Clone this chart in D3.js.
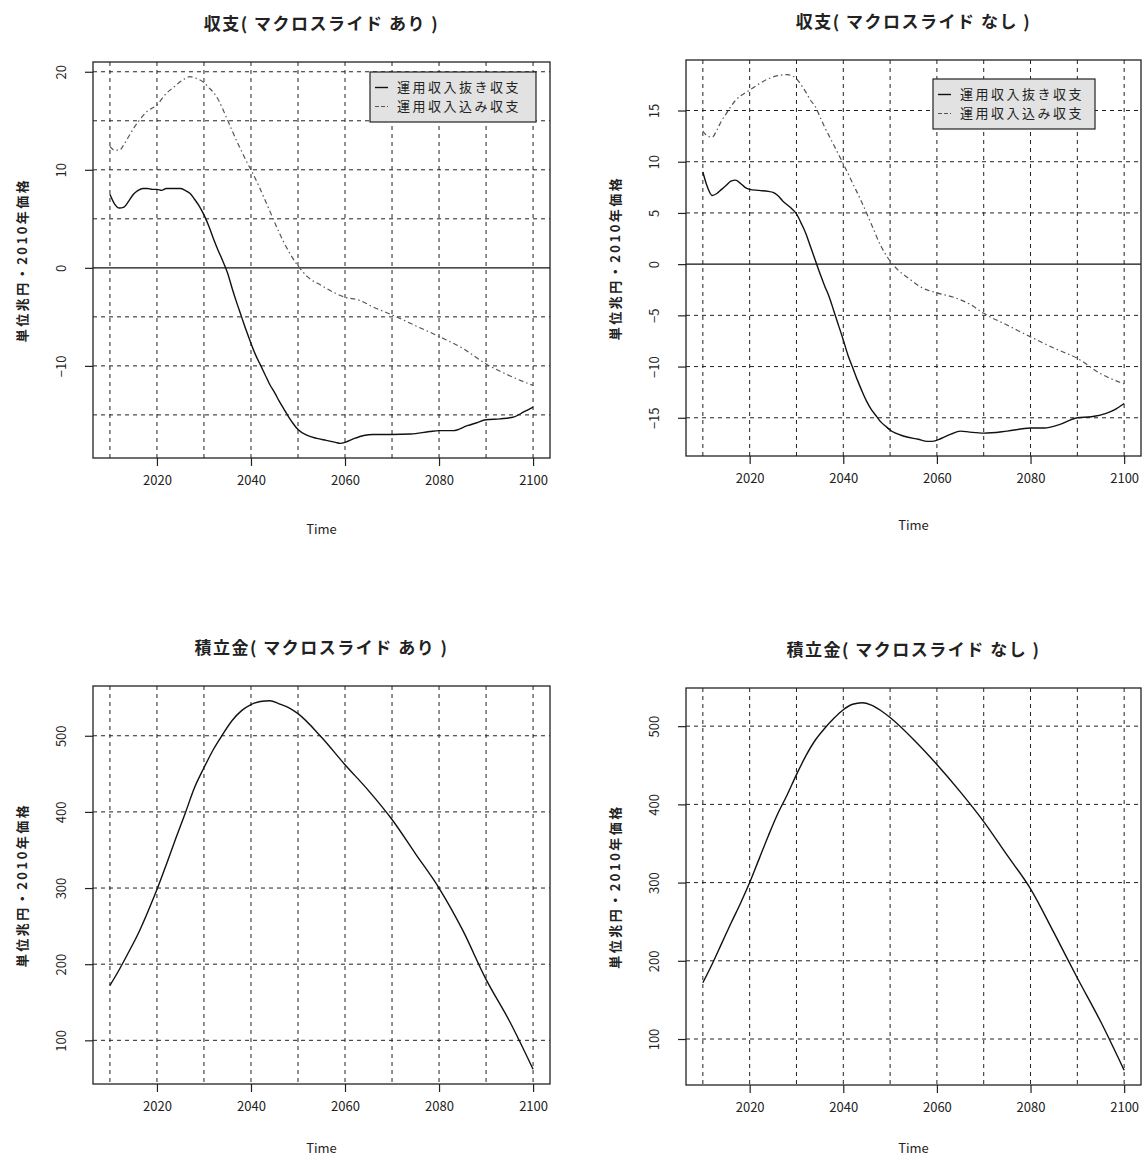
<!DOCTYPE html>
<html lang="ja">
<head>
<meta charset="UTF-8">
<title>収支・積立金</title>
<script src="https://d3js.org/d3.v7.min.js"></script>
<style>
  body { margin: 0; background: #fff; }
  text { font-family: "Noto Sans CJK JP", "Noto Sans", sans-serif; fill: #222; }
</style>
</head>
<body>
<script>
// --- data (兆円・2010年価格) ---
var yearsBalNoInvA = [2010, 2011, 2012, 2013, 2014, 2015, 2016, 2017, 2018, 2019, 2020, 2021, 2022, 2023, 2024, 2025, 2026, 2027, 2028, 2029,
  2030, 2031, 2032, 2033, 2034, 2035, 2036, 2037, 2038, 2039, 2040, 2041, 2042, 2043, 2044, 2045, 2046, 2047, 2048, 2049,
  2050, 2052, 2054, 2056, 2058, 2059, 2060, 2062, 2064, 2066, 2070, 2074, 2078, 2080, 2083, 2086, 2088, 2090, 2093, 2096, 2098, 2100];
var balNoInvA = [7.5, 6.5, 6.1, 6.2, 6.8, 7.5, 7.9, 8.1, 8.1, 8.0, 8.0, 7.9, 8.1, 8.1, 8.1, 8.1, 7.9, 7.6, 7.0, 6.3,
  5.4, 4.3, 3.0, 1.8, 0.7, -0.5, -2.1, -3.6, -5.0, -6.4, -7.7, -8.9, -9.9, -10.9, -11.9, -12.7, -13.6, -14.4, -15.2, -15.9,
  -16.5, -17.1, -17.4, -17.6, -17.8, -17.9, -17.8, -17.4, -17.1, -17.0, -17.0, -16.95, -16.7, -16.6, -16.6, -16.1, -15.8, -15.5, -15.4, -15.2, -14.7, -14.2];

var yearsBalWithInvA = [2010, 2011, 2012, 2013, 2014, 2015, 2016, 2017, 2018, 2019, 2020, 2021, 2022, 2023, 2024, 2025, 2026, 2027, 2028, 2029,
  2030, 2031, 2032, 2033, 2034, 2035, 2036, 2037, 2038, 2039, 2040, 2042, 2044, 2046, 2048, 2050, 2052, 2055, 2058, 2060,
  2063, 2066, 2070, 2075, 2080, 2085, 2090, 2095, 2100];
var balWithInvA = [12.4, 12.0, 12.0, 12.6, 13.4, 14.2, 14.9, 15.5, 16.0, 16.3, 16.6, 17.2, 17.8, 18.2, 18.6, 19.0, 19.3, 19.5, 19.4, 19.2,
  18.9, 18.4, 17.9, 17.2, 16.2, 15.1, 14.0, 12.9, 11.9, 10.9, 10.0, 8.0, 5.8, 3.6, 1.7, 0.2, -0.9, -1.8, -2.6, -3.0,
  -3.3, -4.0, -4.8, -5.9, -7.0, -8.2, -9.8, -11.0, -12.0];

var yearsBalNoInvB = [2010, 2011, 2012, 2013, 2014, 2015, 2016, 2017, 2018, 2019, 2020, 2022, 2024, 2025, 2026, 2027, 2028, 2029,
  2030, 2031, 2032, 2033, 2034, 2035, 2036, 2037, 2038, 2039, 2040, 2041, 2042, 2043, 2044, 2045, 2046, 2047, 2048, 2049,
  2050, 2053, 2056, 2058, 2059, 2061, 2063, 2065, 2067, 2070, 2075, 2080, 2083, 2086, 2090, 2093, 2096, 2098, 2100];
var balNoInvB = [9.0, 7.5, 6.7, 6.9, 7.3, 7.7, 8.1, 8.2, 7.9, 7.5, 7.3, 7.2, 7.1, 7.0, 6.7, 6.2, 5.8, 5.4,
  4.9, 4.0, 3.0, 1.7, 0.4, -0.9, -2.1, -3.2, -4.6, -6.0, -7.4, -8.9, -10.1, -11.3, -12.4, -13.4, -14.2, -14.8, -15.4, -15.8,
  -16.2, -16.8, -17.1, -17.3, -17.3, -17.0, -16.6, -16.3, -16.4, -16.5, -16.3, -16.0, -16.0, -15.7, -15.0, -14.9, -14.6, -14.2, -13.6];

var yearsBalWithInvB = [2010, 2011, 2012, 2013, 2014, 2015, 2016, 2017, 2018, 2019, 2020, 2022, 2024, 2026, 2028, 2029,
  2030, 2031, 2032, 2033, 2034, 2035, 2036, 2037, 2038, 2039, 2040, 2042, 2044, 2046, 2048, 2050, 2052, 2054, 2057, 2060,
  2064, 2067, 2070, 2075, 2080, 2085, 2090, 2095, 2100];
var balWithInvB = [13.0, 12.5, 12.4, 13.1, 14.0, 14.7, 15.4, 16.0, 16.4, 16.7, 17.0, 17.6, 18.1, 18.4, 18.5, 18.4,
  18.1, 17.5, 16.8, 16.0, 15.4, 14.4, 13.4, 12.5, 11.6, 10.7, 9.8, 7.9, 6.0, 3.9, 1.8, 0.3, -0.7, -1.4, -2.35, -2.8,
  -3.3, -3.9, -4.8, -5.95, -7.1, -8.2, -9.2, -10.7, -11.7];

var yearsFund = [2010, 2012, 2014, 2016, 2018, 2020, 2022, 2024, 2026, 2028, 2030, 2032, 2034, 2036, 2038, 2040, 2042, 2044, 2046, 2048,
  2050, 2055, 2060, 2065, 2070, 2075, 2080, 2085, 2090, 2095, 2100];
var fundA = [172, 193, 216, 240, 268, 298, 331, 365, 398, 432, 458, 482, 502, 520, 533, 541, 545, 546, 542, 537,
  529, 498, 462, 428, 390, 345, 300, 245, 180, 125, 62];
var fundB = [172, 196, 222, 248, 273, 300, 330, 360, 388, 412, 438, 462, 482, 497, 510, 521, 528, 530, 527, 520,
  511, 483, 451, 416, 378, 335, 292, 236, 178, 122, 60];

var xGrid = [2010, 2020, 2030, 2040, 2050, 2060, 2070, 2080, 2090, 2100];
var xTicks = [2020, 2040, 2060, 2080, 2100];
var yTicksBalA = [-10, 0, 10, 20];
var yTicksBalB = [-15, -10, -5, 0, 5, 10, 15];
var yGridBal = [-15, -10, -5, 5, 10, 15, 20];
var yTicksFund = [100, 200, 300, 400, 500];
var legendLabels = ["運用収入抜き収支", "運用収入込み収支"];
var yLabel = "単位兆円・2010年価格";
var xLabel = "Time";

var svgWidth = 1147, svgHeight = 1162;
var svg = d3.select("body").append("svg")
    .attr("width", svgWidth)
    .attr("height", svgHeight);

var solidStyle = { dash: null, color: "#111", width: 1.4 };
var dashStyle = { dash: "5,3,1.5,3", color: "#555", width: 1.2 };

var panels = [
  { box: { l: 93, r: 550, t: 62, b: 458 }, title: "収支( マクロスライド あり )",
    series: [{ x: yearsBalNoInvA, y: balNoInvA, s: solidStyle }, { x: yearsBalWithInvA, y: balWithInvA, s: dashStyle }],
    yTicks: yTicksBalA, yGrid: yGridBal, zero: true, timeY: 71, legend: { x: 370, y: 72, w: 166, h: 50 } },
  { box: { l: 686, r: 1141, t: 60, b: 456 }, title: "収支( マクロスライド なし )",
    series: [{ x: yearsBalNoInvB, y: balNoInvB, s: solidStyle }, { x: yearsBalWithInvB, y: balWithInvB, s: dashStyle }],
    yTicks: yTicksBalB, yGrid: yGridBal, zero: true, timeY: 69, legend: { x: 933, y: 79, w: 162, h: 50 } },
  { box: { l: 93, r: 550, t: 686, b: 1084 }, title: "積立金( マクロスライド あり )",
    series: [{ x: yearsFund, y: fundA, s: solidStyle }],
    yTicks: yTicksFund, yGrid: yTicksFund, zero: false, timeY: 64, legend: null },
  { box: { l: 686, r: 1141, t: 688, b: 1085 }, title: "積立金( マクロスライド なし )",
    series: [{ x: yearsFund, y: fundB, s: solidStyle }],
    yTicks: yTicksFund, yGrid: yTicksFund, zero: false, timeY: 63, legend: null }
];

// R style: data range widened by 4% on each side
function padExtent(ext) {
  var d = (ext[1] - ext[0]) * 0.04;
  return [ext[0] - d, ext[1] + d];
}

panels.forEach(function (p) {
  var b = p.box;
  var allX = [], allY = [];
  p.series.forEach(function (s) { allX = allX.concat(s.x); allY = allY.concat(s.y); });

  var xScale = d3.scaleLinear().domain(padExtent(d3.extent(allX))).range([b.l, b.r]);
  var yScale = d3.scaleLinear().domain(padExtent(d3.extent(allY))).range([b.b, b.t]);
  var yDom = yScale.domain();

  var g = svg.append("g");

  // grid
  g.selectAll(".vgrid").data(xGrid).enter().append("line")
      .attr("x1", function (d) { return xScale(d); })
      .attr("x2", function (d) { return xScale(d); })
      .attr("y1", b.t).attr("y2", b.b)
      .attr("stroke", "#222").attr("stroke-width", 1).attr("stroke-dasharray", "4,4");
  g.selectAll(".hgrid").data(p.yGrid.filter(function (d) { return d > yDom[0] && d < yDom[1]; })).enter().append("line")
      .attr("x1", b.l).attr("x2", b.r)
      .attr("y1", function (d) { return yScale(d); })
      .attr("y2", function (d) { return yScale(d); })
      .attr("stroke", "#222").attr("stroke-width", 1).attr("stroke-dasharray", "4,4");
  if (p.zero) {
    g.append("line")
        .attr("x1", b.l).attr("x2", b.r)
        .attr("y1", yScale(0)).attr("y2", yScale(0))
        .attr("stroke", "#111").attr("stroke-width", 1.2);
  }

  // series
  var line = d3.line()
      .x(function (d) { return xScale(d[0]); })
      .y(function (d) { return yScale(d[1]); })
      .curve(d3.curveMonotoneX);
  p.series.forEach(function (s) {
    g.append("path")
        .datum(d3.zip(s.x, s.y))
        .attr("d", line)
        .attr("fill", "none")
        .attr("stroke", s.s.color)
        .attr("stroke-width", s.s.width)
        .attr("stroke-dasharray", s.s.dash);
  });

  // frame
  g.append("rect")
      .attr("x", b.l).attr("y", b.t)
      .attr("width", b.r - b.l).attr("height", b.b - b.t)
      .attr("fill", "none").attr("stroke", "#222").attr("stroke-width", 1.3);

  // axes, R style ticks outside the box
  var xAxis = d3.axisBottom(xScale).tickValues(xTicks).tickFormat(d3.format("d")).tickSize(8).tickPadding(10);
  var xg = g.append("g").attr("transform", "translate(0," + b.b + ")").call(xAxis);
  xg.select(".domain").remove();
  xg.selectAll("line").attr("stroke", "#222").attr("stroke-width", 1.2);
  xg.selectAll("text").attr("font-size", "13px").attr("fill", "#333")
      .attr("font-family", "'Noto Sans CJK JP', sans-serif");

  var yAxis = d3.axisLeft(yScale).tickValues(p.yTicks).tickFormat(d3.format("d")).tickSize(8).tickPadding(0);
  var yg = g.append("g").attr("transform", "translate(" + b.l + ",0)").call(yAxis);
  yg.select(".domain").remove();
  yg.selectAll("line").attr("stroke", "#222").attr("stroke-width", 1.2);
  yg.selectAll("text")
      .attr("font-size", "13px").attr("fill", "#333")
      .attr("font-family", "'Noto Sans CJK JP', sans-serif")
      .attr("x", null).attr("dy", null)
      .attr("text-anchor", "middle")
      .attr("transform", "translate(-32,0) rotate(-90)")
      .attr("y", 0)
      .attr("dy", "0.35em");

  // title
  g.append("text")
      .attr("x", (b.l + b.r) / 2).attr("y", b.t - 38)
      .attr("dy", "0.35em")
      .attr("text-anchor", "middle")
      .attr("font-size", "17px").attr("font-weight", "bold")
      .attr("letter-spacing", "1.5px")
      .text(p.title);

  // axis labels
  g.append("text")
      .attr("x", (b.l + b.r) / 2).attr("y", b.b + p.timeY)
      .attr("dy", "0.35em")
      .attr("text-anchor", "middle")
      .attr("font-size", "13px")
      .text(xLabel);
  g.append("text")
      .attr("transform", "translate(" + (b.l - 71) + "," + ((b.t + b.b) / 2) + ") rotate(-90)")
      .attr("dy", "0.35em")
      .attr("text-anchor", "middle")
      .attr("font-size", "13px").attr("font-weight", "bold")
      .attr("letter-spacing", "2.5px")
      .text(yLabel);

  // legend
  if (p.legend) {
    var L = p.legend;
    var lg = g.append("g");
    lg.append("rect")
        .attr("x", L.x).attr("y", L.y).attr("width", L.w).attr("height", L.h)
        .attr("fill", "#e2e2e2").attr("stroke", "#222").attr("stroke-width", 1.2);
    var rows = [L.y + L.h / 2 - 9.5, L.y + L.h / 2 + 9.5];
    p.series.forEach(function (s, i) {
      lg.append("line")
          .attr("x1", L.x + 5).attr("x2", L.x + 18)
          .attr("y1", rows[i]).attr("y2", rows[i])
          .attr("stroke", s.s.color).attr("stroke-width", s.s.width)
          .attr("stroke-dasharray", s.s.dash ? "4,2" : null);
      lg.append("text")
          .attr("x", L.x + 27).attr("y", rows[i])
          .attr("dy", "0.35em")
          .attr("font-size", "13px")
          .attr("letter-spacing", "2.5px")
          .text(legendLabels[i]);
    });
  }
});
</script>
</body>
</html>
